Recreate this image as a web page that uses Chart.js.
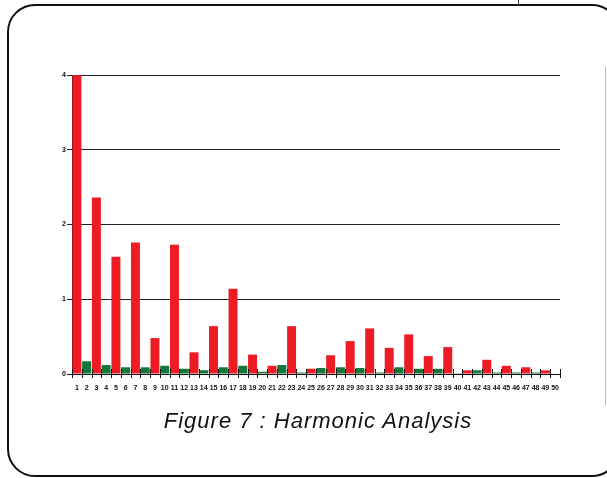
<!DOCTYPE html>
<html>
<head>
<meta charset="utf-8">
<script src="https://cdn.jsdelivr.net/npm/chart.js@4.4.1/dist/chart.umd.min.js"></script>
<style>
	html, body { margin:0; padding:0; background:#fff; overflow:hidden; }
	#page { position:relative; width:607px; height:478px; }
	#frame { position:absolute; left:7px; top:4px; width:613px; height:473px;
		box-sizing:border-box; border:2px solid #111; border-radius:28px; }
	#notch { position:absolute; left:518px; top:0; width:1px; height:5px; background:#444; }
	#side { position:absolute; left:605px; top:67px; width:1px; height:338px; background:#bbb; }
	#caption { position:absolute; left:0; width:636px; top:410px; text-align:center;
		font-family:"Liberation Sans", Arial, sans-serif; font-style:italic;
		font-size:22px; line-height:22px; letter-spacing:1px; color:#111; }
	#wrap { position:absolute; left:0; top:0; width:607px; height:478px; }
</style>
</head>
<body>
<div id="page">
	<div id="frame"></div>
	<div id="notch"></div>
	<div id="side"></div>
	<div id="wrap"><canvas id="barChart"></canvas></div>
	<div id="caption">Figure 7 : Harmonic Analysis</div>
</div>
<script>
// harmonic order
var harmonics = ["1","2","3","4","5","6","7","8","9","10",
	"11","12","13","14","15","16","17","18","19","20",
	"21","22","23","24","25","26","27","28","29","30",
	"31","32","33","34","35","36","37","38","39","40",
	"41","42","43","44","45","46","47","48","49","50"];

// magnitude
var magnitudes = [4.0, 0.17, 2.36, 0.12, 1.57, 0.09, 1.76, 0.09, 0.48, 0.11,
	1.73, 0.07, 0.29, 0.05, 0.64, 0.09, 1.14, 0.11, 0.26, 0.03,
	0.11, 0.12, 0.64, 0.02, 0.07, 0.08, 0.25, 0.09, 0.44, 0.08,
	0.61, 0.02, 0.35, 0.09, 0.53, 0.07, 0.24, 0.07, 0.36, 0.01,
	0.05, 0.05, 0.19, 0.02, 0.11, 0.02, 0.09, 0.02, 0.05, 0];

var yTicks = [0, 1, 2, 3, 4];

var RED = "#ed1c24";
var GREEN = "#13773b";

// odd harmonics red, even ones green
var barColors = harmonics.map(function(h){ return (parseInt(h) % 2) ? RED : GREEN });

// little tick marks between the categories, crossing the x axis
var xTickMarks = {
	id: 'xTickMarks',
	afterDatasetsDraw: function(chart){
		var x = chart.scales.x, ctx = chart.ctx
		var half = (x.getPixelForValue(1) - x.getPixelForValue(0)) / 2
		var y0 = chart.chartArea.bottom
		ctx.save()
		ctx.strokeStyle = "#111"
		ctx.lineWidth = 1
		ctx.beginPath()
		for(var i = 0; i <= harmonics.length; i++){
			var px = Math.round(x.getPixelForValue(i) - half) + 0.5
			ctx.moveTo(px, y0 - 5)
			ctx.lineTo(px, y0 + 4)
		}
		ctx.stroke()
		ctx.restore()
	}
}

var ctx = document.getElementById('barChart')
new Chart(ctx, {
	type: 'bar',
	data: {
		labels: harmonics,
		datasets: [{
			label: "Harmonics",
			data: magnitudes,
			backgroundColor: barColors,
			borderWidth: 0,
			categoryPercentage: 1,
			barPercentage: 0.92
		}]
	},
	options: {
		responsive: true,
		maintainAspectRatio: false,
		animation: false,
		layout: { padding: { left: 0, top: 75, right: 47, bottom: 84 } },
		plugins: { legend: { display: false }, tooltip: { enabled: false } },
		scales: {
			x: {
				grid: { display: false },
				border: { display: true, color: "#111", width: 1 },
				ticks: {
					autoSkip: false, maxRotation: 0, padding: 2, color: "#111",
					font: { family: "'Liberation Sans', Arial", size: 7, weight: 'bold' }
				},
				afterFit: function(s){ s.height = 20 }
			},
			y: {
				min: 0, max: 4,
				afterBuildTicks: function(s){ s.ticks = yTicks.map(function(v){ return {value: v} }) },
				grid: { color: "#222", lineWidth: 1, tickLength: 5 },
				border: { display: true, color: "#111", width: 1 },
				ticks: {
					padding: 1, color: "#111",
					font: { family: "'Liberation Sans', Arial", size: 7, weight: 'bold' }
				},
				afterFit: function(s){ s.width = 72 }
			}
		}
	},
	plugins: [xTickMarks]
})
</script>
</body>
</html>
